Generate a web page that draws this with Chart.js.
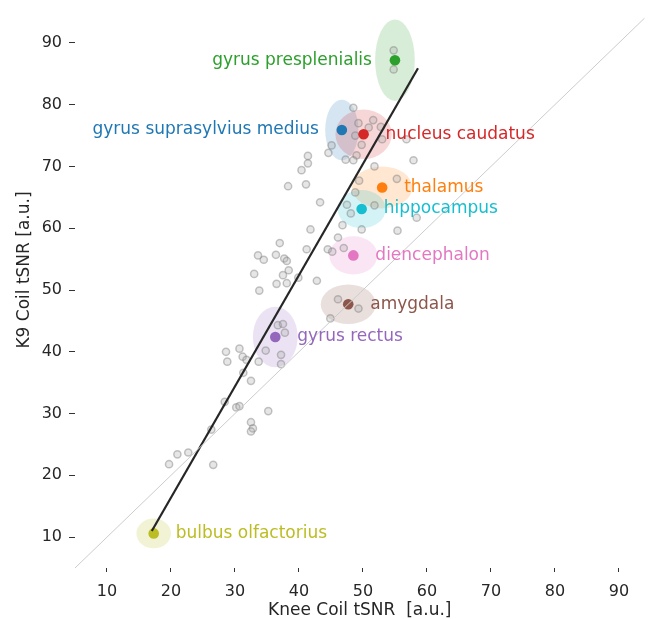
<!DOCTYPE html>
<html><head><meta charset="utf-8">
<script src="https://cdn.jsdelivr.net/npm/chart.js@4"></script>
<style>html,body{margin:0;padding:0;background:#fff}</style>
</head><body>
<canvas id="c" width="650" height="619"></canvas>
<script>
// ---- data ----
const regionNames = ['gyrus presplenialis','gyrus suprasylvius medius','nucleus caudatus','thalamus','hippocampus','diencephalon','amygdala','gyrus rectus','bulbus olfactorius'];
const regionX   = [55.0, 46.7, 50.1, 53.0, 49.8, 48.5, 47.7, 36.3, 17.3];
const regionY   = [87.2, 75.9, 75.2, 66.6, 63.1, 55.6, 47.7, 42.4, 10.6];
const regionSdX = [3.1, 2.6, 4.4, 4.7, 3.75, 3.75, 4.3, 3.5, 2.7];
const regionSdY = [6.6, 4.9, 4.0, 3.4, 3.1, 3.1, 3.2, 4.9, 2.4];
const regionColors = ['#2ca02c','#1f77b4','#d62728','#ff7f0e','#17becf','#e377c2','#8c564b','#9467bd','#bcbd22'];
const labelSide = ['left','left','right','right','right','right','right','right','right'];

const voxelX = [48.5,49.3,50.9,51.6,52.8,48.8,49.8,49.0,53.0,56.8,57.9,45.1,44.6,47.3,48.5,41.4,41.4,40.4,41.1,38.3,
  51.8,49.4,55.3,48.8,47.5,48.1,51.8,43.3,58.4,46.8,49.8,55.4,41.8,46.1,37.0,41.2,44.5,45.2,47.0,33.6,
  34.5,36.4,37.7,38.1,33.0,37.5,38.4,36.5,38.1,33.8,42.8,39.9,46.1,49.3,44.9,36.7,37.5,37.8,34.8,37.2,
  37.2,33.7,28.6,30.7,31.2,28.8,31.8,31.3,32.5,28.4,30.2,30.7,35.2,32.5,32.8,32.5,26.3,21.0,22.7,19.7,
  26.6,54.8,54.8];
const voxelY = [79.5,77.0,76.3,77.5,76.4,75.0,73.5,71.8,74.4,74.4,71.0,73.4,72.2,71.1,71.0,71.7,70.5,69.4,67.1,66.8,
  70.0,67.7,68.0,65.8,63.8,62.4,63.7,64.2,61.7,60.5,59.8,59.6,59.8,58.5,57.6,56.6,56.6,56.2,56.8,55.6,
  54.9,55.7,55.1,54.7,52.6,52.4,53.2,51.0,51.1,49.9,51.5,52.0,48.5,47.0,45.4,44.3,44.5,43.1,40.2,39.5,
  38.0,38.4,40.0,40.5,39.2,38.4,38.7,36.6,35.3,31.9,31.0,31.2,30.4,28.6,27.6,27.1,27.4,23.4,23.7,21.8,
  21.7,88.8,85.7];

const fitX = [17.0, 58.6];
const fitY = [11.0, 85.9];
const identityXY = [5, 95];

const xTicks = [10,20,30,40,50,60,70,80,90];
const yTicks = [10,20,30,40,50,60,70,80,90];

const xTitle = 'Knee Coil tSNR  [a.u.]';
const yTitle = 'K9 Coil tSNR [a.u.]';

// ---- helpers ----
const FONT = 'DejaVu Sans';
function hexA(hex, a){
  const n = parseInt(hex.slice(1),16);
  return `rgba(${(n>>16)&255},${(n>>8)&255},${n&255},${a})`;
}

const ellipsePlugin = {
  id: 'ellipses',
  beforeDatasetsDraw(chart){
    const {ctx, chartArea, scales:{x, y}} = chart;
    ctx.save();
    ctx.beginPath();
    ctx.rect(chartArea.left, chartArea.top, chartArea.right-chartArea.left, chartArea.bottom-chartArea.top);
    ctx.clip();
    regionX.forEach((cx, i) => {
      const px = x.getPixelForValue(cx), py = y.getPixelForValue(regionY[i]);
      const rx = Math.abs(x.getPixelForValue(cx + regionSdX[i]) - px);
      const ry = Math.abs(y.getPixelForValue(regionY[i] + regionSdY[i]) - py);
      ctx.beginPath();
      ctx.ellipse(px, py, rx, ry, 0, 0, Math.PI*2);
      ctx.fillStyle = hexA(regionColors[i], 0.19);
      ctx.fill();
    });
    ctx.restore();
  }
};

const labelPlugin = {
  id: 'regionLabels',
  afterDatasetsDraw(chart){
    const {ctx, scales:{x, y}} = chart;
    ctx.save();
    ctx.font = `17px "${FONT}"`;
    ctx.textBaseline = 'middle';
    regionNames.forEach((name, i) => {
      const px = x.getPixelForValue(regionX[i]), py = y.getPixelForValue(regionY[i]);
      ctx.fillStyle = regionColors[i];
      if (labelSide[i] === 'left') { ctx.textAlign = 'right'; ctx.fillText(name, px - 23, py); }
      else { ctx.textAlign = 'left'; ctx.fillText(name, px + 22, py); }
    });
    ctx.restore();
  },
  afterDraw(chart){
    const ctx = chart.ctx;
    ctx.save();
    ctx.font = `17px "${FONT}"`;
    ctx.fillStyle = '#262626';
    ctx.translate(25, 270);
    ctx.rotate(-Math.PI/2);
    ctx.textAlign = 'center';
    ctx.textBaseline = 'middle';
    ctx.fillText(yTitle, 0, 0);
    ctx.restore();
  }
};

const voxelData = voxelX.map((v,i)=>({x:v, y:voxelY[i]}));
const regionData = regionX.map((v,i)=>({x:v, y:regionY[i]}));

new Chart(document.getElementById('c'), {
  type: 'scatter',
  data: {
    datasets: [
      { type:'line', data: identityXY.map(v=>({x:v,y:v})), borderColor:'#cccccc', borderWidth:1,
        pointRadius:0, order:0 },
      { type:'line', data: fitX.map((v,i)=>({x:v,y:fitY[i]})), borderColor:'#262626', borderWidth:2.2,
        pointRadius:0, order:1 },
      { data: regionData, pointBackgroundColor: regionColors, pointBorderWidth:0, pointRadius:5.3, order:2 },
      { data: voxelData, pointBackgroundColor:'rgba(165,165,165,0.28)', pointBorderColor:'rgba(120,120,120,0.42)',
        pointBorderWidth:1.5, pointRadius:3.6, order:3 }
    ]
  },
  options: {
    responsive:false, devicePixelRatio:1, animation:false,
    layout:{ padding:{ top:12, right:2, left:0, bottom:0 } },
    plugins:{ legend:{display:false}, tooltip:{enabled:false} },
    scales:{
      x:{ type:'linear', min:5, max:94,
        afterBuildTicks: s => { s.ticks = xTicks.map(v=>({value:v})); },
        afterFit: s => { s.height = 51; s.paddingLeft = 0; s.paddingRight = 0; s.paddingTop = 0; s.paddingBottom = 0; },
        border:{display:false},
        grid:{ display:true, drawOnChartArea:false, drawTicks:true, tickLength:4, tickColor:'#333', tickWidth:1 },
        ticks:{ font:{family:FONT, size:16}, color:'#262626', padding:10, maxRotation:0 },
        title:{ display:true, text:xTitle, font:{family:FONT, size:17, lineHeight:1}, color:'#262626', padding:{top:0,bottom:0} }
      },
      y:{ type:'linear', min:5, max:95,
        afterBuildTicks: s => { s.ticks = yTicks.map(v=>({value:v})); },
        afterFit: s => { s.width = 75; s.paddingLeft = 0; s.paddingRight = 0; s.paddingTop = 0; s.paddingBottom = 0; },
        border:{display:false},
        grid:{ display:true, drawOnChartArea:false, drawTicks:true, tickLength:6, tickColor:'#333', tickWidth:1 },
        ticks:{ font:{family:FONT, size:16}, color:'#262626', padding:7 },
        title:{ display:false }
      }
    }
  },
  plugins:[ellipsePlugin, labelPlugin]
});
</script>
</body></html>
